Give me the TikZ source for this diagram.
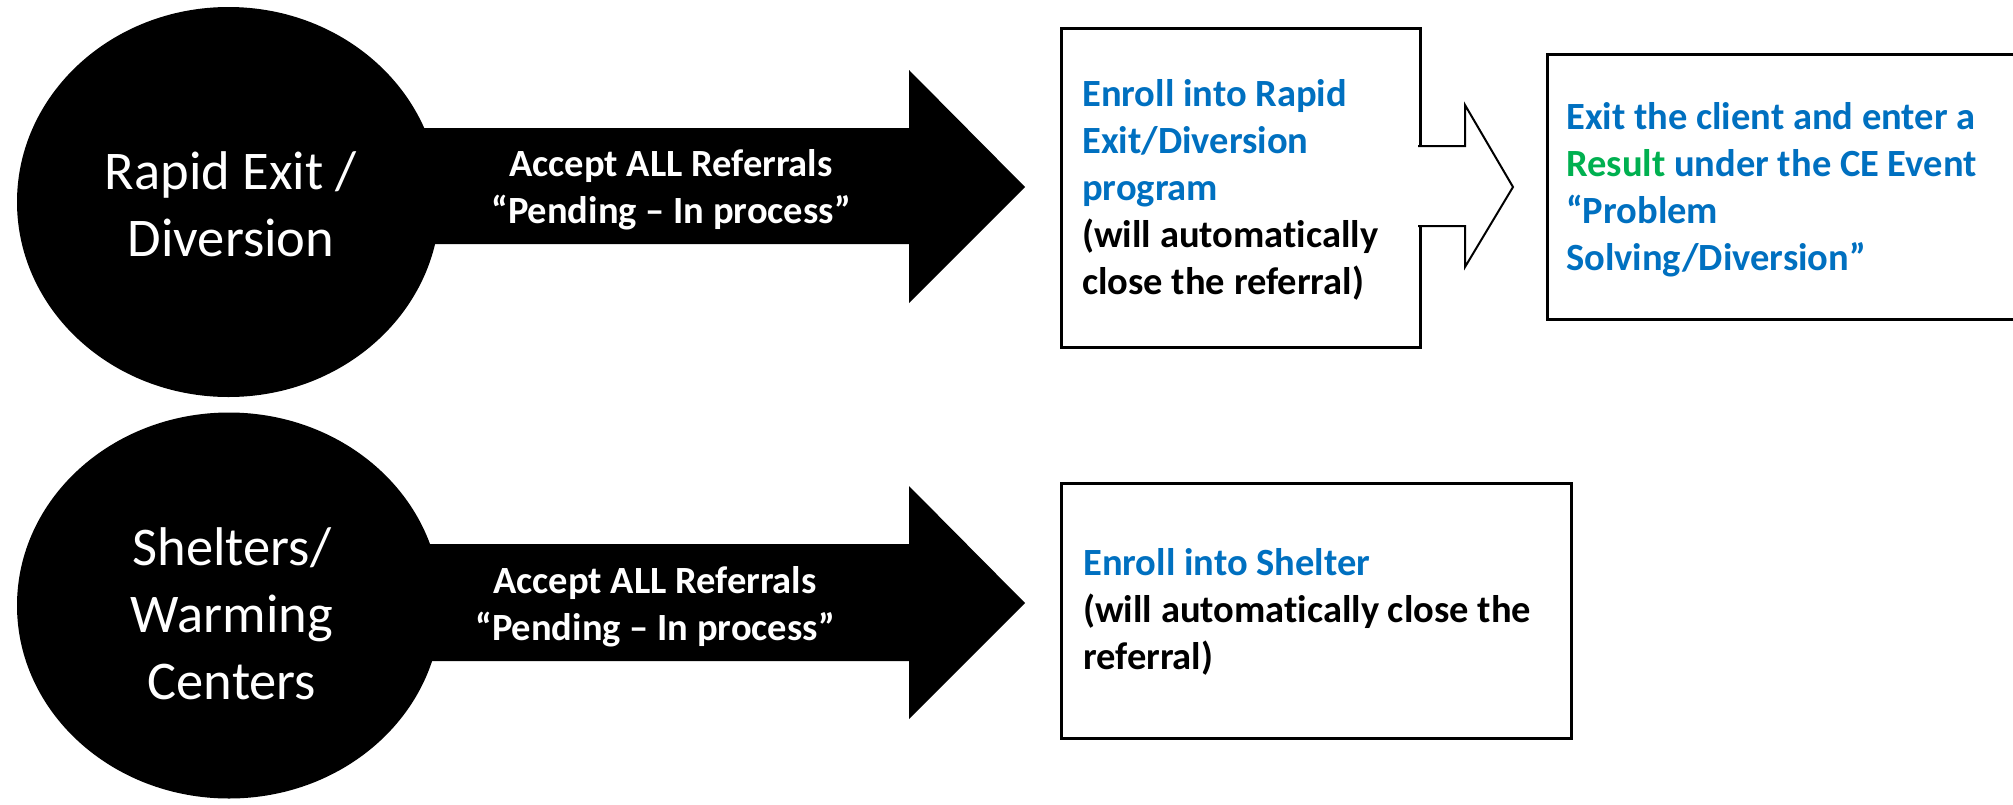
\documentclass[tikz,border=0pt]{standalone}
\usepackage{fontspec}
\setmainfont{Carlito}[Ligatures=NoCommon]
\usetikzlibrary{shapes.geometric}
\definecolor{eblue}{RGB}{0,112,192}
\definecolor{egreen}{RGB}{0,176,80}
\tikzset{
  blob/.style={ellipse, fill=black, inner sep=0pt},
  blobtext/.style={text=white, align=center, inner sep=0pt,
    font=\fontsize{54.5}{67}\selectfont},
  bigarrow/.style={fill=black},
  arrowtext/.style={text=white, align=center, inner sep=0pt,
    font=\bfseries\fontsize{38.5}{47}\selectfont},
  stepbox/.style={draw=black, line width=2.7pt, fill=white, inner sep=0pt,
    anchor=north west},
  boxtext/.style={align=left, anchor=west, inner sep=0pt,
    font=\bfseries\fontsize{38.5}{47}\selectfont},
  hollowarrow/.style={draw=black, line width=2pt, line join=miter},
}
\begin{document}
\begin{tikzpicture}[x=1pt,y=-1pt]
\useasboundingbox (0,0) rectangle (2013,804);
\clip (0,0) rectangle (2013,804);
\fill[white] (0,0) rectangle (2013,804);

% ---- first row: rapid exit / diversion ----
\node[blob, minimum width=423pt, minimum height=390pt] (rapid) at (228.5,202) {};
\coordinate (tipA) at (1025,187);
\fill[bigarrow] (400,128) -- (909,128) -- (909,70) -- (tipA)
  -- (909,303) -- (909,244) -- (400,244) -- cycle;
\node[blobtext] (rapidtxt) at (231,204) {Rapid Exit /\\Diversion};
\node[arrowtext] (acceptA) at (671,190) {Accept ALL Referrals\\“Pending – In process”};

\node[stepbox, minimum width=359pt, minimum height=319pt] (enroll) at (1060,27) {};
\node[boxtext] (enrolltxt) at (1082,190)
  {{\color{eblue}Enroll into Rapid}\\{\color{eblue}Exit/Diversion}\\{\color{eblue}program}\\(will automatically\\close the referral)};

% hollow arrow growing out of the enrolment box
\fill[white] (1417,146) -- (1465,146) -- (1465,105) -- (1513,187)
  -- (1465,267) -- (1465,226) -- (1417,226) -- cycle;
\draw[hollowarrow] (1418,146) -- (1465,146) -- (1465,105) -- (1513,187)
  -- (1465,267) -- (1465,226) -- (1418,226);

\node[stepbox, minimum width=520pt, minimum height=265pt] (exitbox) at (1546,53) {};
\node[boxtext, text=eblue] (exittxt) at (1566,190)
  {Exit the client and enter a\\{\color{egreen}Result} under the CE Event\\“Problem\\Solving/Diversion”};

% ---- second row: shelters / warming centers ----
\node[blob, minimum width=424pt, minimum height=386pt] (shelter) at (229,605.5) {};
\coordinate (tipB) at (1025,603);
\fill[bigarrow] (400,544) -- (909,544) -- (909,486) -- (tipB)
  -- (909,719) -- (909,661) -- (400,661) -- cycle;
\node[blobtext] (sheltertxt) at (232,614) {Shelters/\\Warming\\Centers};
\node[arrowtext] (acceptB) at (655,607) {Accept ALL Referrals\\“Pending – In process”};

\node[stepbox, minimum width=510pt, minimum height=255pt] (shelterbox) at (1060,482) {};
\node[boxtext] (sheltbtxt) at (1083,612)
  {{\color{eblue}Enroll into Shelter}\\(will automatically close the\\referral)};
\end{tikzpicture}
\end{document}
